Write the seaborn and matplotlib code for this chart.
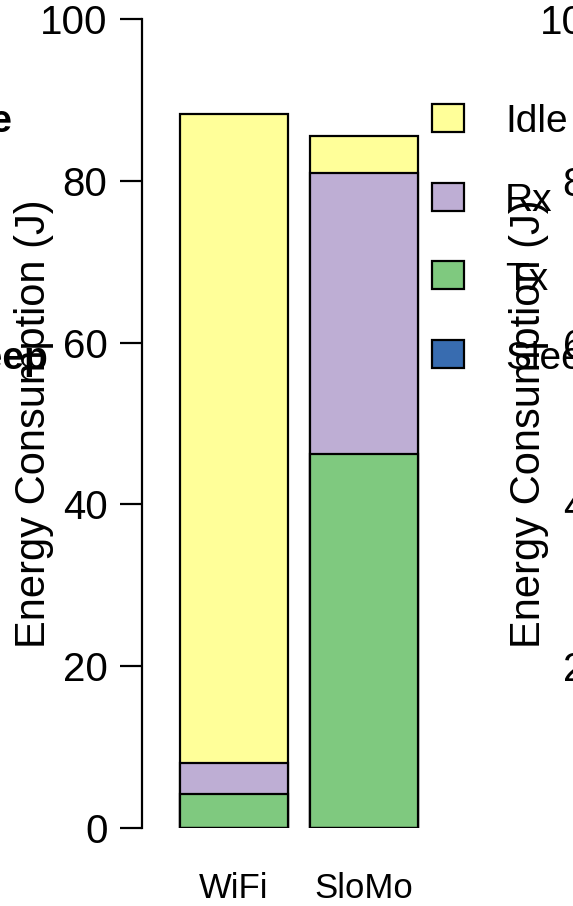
import matplotlib
matplotlib.use("Agg")
import matplotlib.pyplot as plt
from matplotlib.patches import Rectangle
import pandas as pd
import seaborn as sns

# Energy breakdown per system (J)
systems = ["WiFi", "SloMo"]
sleep = [0.0, 0.0]
tx = [4.2, 46.2]
rx = [3.8, 34.8]
idle = [80.3, 4.5]

components = ["Idle", "Rx", "Tx", "Sleep"]
colors = {"Idle": "#FFFF99", "Rx": "#BEAED4", "Tx": "#7FC97F", "Sleep": "#386CB0"}
yticks = [0, 20, 40, 60, 80, 100]
ylabel = "Energy Consumption (J)"

sns.set_style("ticks")
plt.rcParams["font.family"] = ["Liberation Sans", "DejaVu Sans"]
plt.rcParams["text.color"] = "black"
plt.rcParams["axes.labelcolor"] = "black"
plt.rcParams["axes.edgecolor"] = "black"
plt.rcParams["xtick.color"] = "black"
plt.rcParams["ytick.color"] = "black"

W, H = 573, 906
fig = plt.figure(figsize=(W / 100, H / 100), dpi=100)


def fx(x):
    return x / W


def fy(y):
    return 1 - y / H


y_zero, y_top = 828, 19
ax_left, ax_w = 142, 431
ax = fig.add_axes([fx(ax_left), fy(y_zero), ax_w / W, (y_zero - y_top) / H])

df = pd.DataFrame({"system": systems, "Sleep": sleep, "Tx": tx, "Rx": rx, "Idle": idle})
stack = ["Sleep", "Tx", "Rx", "Idle"]
cum = df[stack].cumsum(axis=1)
cum["system"] = df["system"]

# stacked bars: draw cumulative totals from the top segment downwards
for comp in reversed(stack):
    sns.barplot(data=cum, x="system", y=comp, order=systems, color=colors[comp],
                saturation=1, edgecolor="black", linewidth=1.6,
                width=108 / 130, errorbar=None, ax=ax)

ax.set_xlim(-0.708, 2.608)
ax.set_ylim(0, 100)
for s in ["top", "right", "bottom"]:
    ax.spines[s].set_visible(False)
ax.spines["left"].set_bounds(0, 100)
ax.spines["left"].set_linewidth(1.6)
ax.set_yticks(yticks)
ax.set_yticklabels([str(t) for t in yticks])
ax.tick_params(axis="y", length=15.8, width=1.6, pad=9, labelsize=29, colors="black")
ax.tick_params(axis="x", length=0, pad=32, labelsize=25, colors="black")
ax.set_xlabel("")
ax.set_ylabel(ylabel, fontsize=30, color="black")
ax.yaxis.set_label_coords(-0.205, 0.5)
ax.patch.set_visible(False)

# legend
center0, step = 118, 78.7
for i, comp in enumerate(components):
    cy = center0 + i * step
    fig.add_artist(Rectangle((fx(432), fy(cy + 14)), 32 / W, 28 / H,
                             transform=fig.transFigure, facecolor=colors[comp],
                             edgecolor="black", linewidth=1.6))
    fig.text(fx(505), fy(cy + 14.5), comp, fontsize=28, color="black",
             ha="left", va="baseline")

# neighbouring panel on the right (same scale, only its axis text reaches here)
ax2 = fig.add_axes([fx(ax_left + 500), fy(y_zero), ax_w / W, (y_zero - y_top) / H])
ax2.set_ylim(0, 100)
ax2.set_xticks([])
ax2.set_yticks(yticks)
ax2.set_yticklabels([str(t) for t in yticks])
ax2.tick_params(axis="y", length=15.8, width=1.6, pad=9, labelsize=29, colors="black")
for s in ["top", "right", "bottom", "left"]:
    ax2.spines[s].set_visible(False)
ax2.set_ylabel(ylabel, fontsize=30, color="black")
ax2.yaxis.set_label_coords(-0.215, 0.5)
ax2.patch.set_visible(False)

# neighbouring panel on the left: tail of its legend labels
for i, comp in enumerate(components):
    cy = center0 + i * step
    fig.text(fx(-55), fy(cy + 14.5), comp, fontsize=28, fontweight="bold",
             color="black", ha="left", va="baseline")

fig.savefig("out.png", dpi=100)
